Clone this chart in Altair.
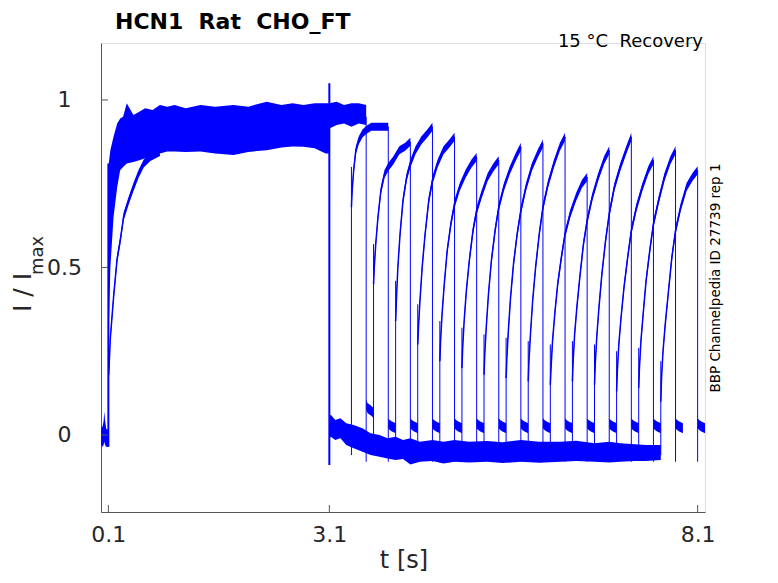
import altair as alt
import pandas as pd

BLUE = "#0000ff"
INK = "#262626"
FONT = "DejaVu Sans"

# ---------------- data ----------------
X_TICKS = [0.1, 3.1, 8.1]
Y_TICKS = [0.0, 0.5, 1.0]

# baseline before the activating step (noise envelope)
PRE_T = [0.0, 0.02, 0.035, 0.045, 0.055, 0.07, 0.085, 0.1]
PRE_LO = [-0.03, -0.035, -0.03, -0.02, -0.03, -0.035, -0.036, -0.035]
PRE_HI = [0.02, 0.025, 0.04, 0.07, 0.045, 0.02, 0.015, 0.02]

# envelope of the overlapping activation traces (0.1 .. 3.1 s)
PLAT_T = [0.10, 0.105, 0.127, 0.17, 0.22, 0.26, 0.30, 0.35, 0.44, 0.52, 0.6, 0.7, 0.8, 0.9,
          1.0, 1.15, 1.35, 1.55, 1.8, 2.0, 2.25, 2.45, 2.6, 2.75, 2.9, 3.05, 3.1]
PLAT_HI = [0.80, 0.81, 0.85, 0.89, 0.93, 0.945, 0.95, 0.99, 0.955, 0.965, 0.975, 0.97, 0.985, 0.98,
           0.985, 0.975, 0.985, 0.98, 0.985, 0.98, 0.995, 0.985, 0.99, 0.985, 0.99, 0.99, 0.99]
PLAT_LO = [0.10, 0.30, 0.50, 0.65, 0.74, 0.79, 0.80, 0.81, 0.815, 0.82, 0.826, 0.835, 0.84, 0.846,
           0.846, 0.845, 0.846, 0.84, 0.836, 0.845, 0.85, 0.858, 0.861, 0.86, 0.856, 0.84, 0.84]

# one slowly activating sweep
SLOW_T = [0.105, 0.127, 0.172, 0.218, 0.263, 0.308, 0.376, 0.444, 0.511, 0.58, 0.67, 0.8]
SLOW_V = [0.18, 0.29, 0.415, 0.524, 0.583, 0.653, 0.70, 0.742, 0.78, 0.81, 0.83, 0.845]

# zero-interval sweep that stays at the test potential (3.1 .. 3.6 s)
HOLD0_T = [3.1, 3.2, 3.3, 3.4, 3.5, 3.6]
HOLD0_LO = [0.915, 0.925, 0.93, 0.92, 0.93, 0.925]
HOLD0_HI = [0.99, 0.995, 0.985, 0.99, 0.99, 0.985]

# envelope of the deactivated baselines after 3.1 s
BASE_T = [3.1, 3.12, 3.18, 3.25, 3.33, 3.43, 3.55, 3.66, 3.78, 3.89, 4.0, 4.1, 4.2, 4.33, 4.5,
          4.65, 4.8, 5.0, 5.24, 5.45, 5.7, 5.95, 6.24, 6.45, 6.7, 6.9, 7.05, 7.25, 7.4, 7.6]
BASE_HI = [0.055, 0.06, 0.045, 0.05, 0.035, 0.03, 0.02, 0.005, 0.0, -0.01, -0.005, -0.015, -0.01,
           -0.02, -0.015, -0.02, -0.015, -0.02, -0.018, -0.022, -0.015, -0.02, -0.02, -0.017,
           -0.025, -0.02, -0.025, -0.028, -0.03, -0.03]
BASE_LO = [-0.01, -0.005, -0.015, -0.01, -0.03, -0.04, -0.05, -0.06, -0.065, -0.07, -0.075, -0.072,
           -0.088, -0.08, -0.078, -0.085, -0.08, -0.082, -0.08, -0.084, -0.08, -0.083, -0.08,
           -0.078, -0.08, -0.082, -0.08, -0.078, -0.078, -0.075]

# recovery test pulses: start times and the current along each pulse
RISE_T = [3.4, 3.7, 4.0, 4.3, 4.6, 4.9, 5.2, 5.5, 5.8, 6.1, 6.4, 6.7, 7.0, 7.3, 7.6]
PULSE_DT = [0.0, 0.01, 0.03, 0.06, 0.1, 0.15, 0.2, 0.27, 0.35, 0.43, 0.5]
PULSE_V = [
    [0.68, 0.73, 0.79, 0.85, 0.88, 0.90, 0.91, 0.92, 0.92, 0.92, 0.92],
    [0.45, 0.50, 0.57, 0.65, 0.73, 0.78, 0.80, 0.82, 0.85, 0.86, 0.875],
    [0.34, 0.40, 0.50, 0.60, 0.70, 0.77, 0.81, 0.85, 0.88, 0.90, 0.92],
    [0.27, 0.32, 0.40, 0.50, 0.60, 0.70, 0.76, 0.81, 0.85, 0.87, 0.89],
    [0.22, 0.28, 0.36, 0.45, 0.55, 0.63, 0.69, 0.74, 0.78, 0.81, 0.83],
    [0.20, 0.26, 0.34, 0.43, 0.52, 0.61, 0.67, 0.72, 0.77, 0.80, 0.82],
    [0.18, 0.24, 0.32, 0.42, 0.52, 0.61, 0.68, 0.74, 0.79, 0.83, 0.86],
    [0.17, 0.23, 0.31, 0.41, 0.51, 0.60, 0.67, 0.74, 0.80, 0.84, 0.87],
    [0.16, 0.22, 0.30, 0.40, 0.50, 0.60, 0.68, 0.75, 0.81, 0.86, 0.89],
    [0.15, 0.20, 0.28, 0.36, 0.45, 0.53, 0.60, 0.66, 0.71, 0.75, 0.77],
    [0.16, 0.22, 0.30, 0.38, 0.47, 0.57, 0.64, 0.71, 0.77, 0.82, 0.85],
    [0.15, 0.21, 0.29, 0.38, 0.48, 0.58, 0.66, 0.74, 0.80, 0.85, 0.89],
    [0.13, 0.19, 0.27, 0.35, 0.44, 0.53, 0.61, 0.68, 0.74, 0.79, 0.82],
    [0.14, 0.20, 0.28, 0.36, 0.46, 0.55, 0.63, 0.70, 0.77, 0.82, 0.85],
    [0.10, 0.17, 0.25, 0.33, 0.42, 0.53, 0.61, 0.68, 0.74, 0.77, 0.79],
]
SPIKE_V = [0.80, 0.57, 0.46, 0.39, 0.34, 0.32, 0.30, 0.29, 0.28, 0.27, 0.28, 0.27, 0.25, 0.26, 0.22]
PRE_RISE_V = -0.06
DROP_LOW = -0.08

# small tail after each test pulse (0.1 s)
BUMP_DT = [0.0, 0.02, 0.05, 0.08, 0.1]
BUMP_V = [0.035, 0.03, 0.025, 0.022, 0.02]
BUMP0_V = [0.09, 0.08, 0.075, 0.07, 0.065]
PULSE_LEN = 0.5
NOISE = 0.012
BUMP_NOISE = 0.015

# ---------------- tables ----------------
bands = []
for t, lo, hi in zip(PRE_T, PRE_LO, PRE_HI):
    bands.append(dict(seg="pre", t=t, lo=lo, hi=hi))
for t, lo, hi in zip(PLAT_T, PLAT_LO, PLAT_HI):
    bands.append(dict(seg="plat", t=t, lo=lo, hi=hi))
for t, lo, hi in zip(HOLD0_T, HOLD0_LO, HOLD0_HI):
    bands.append(dict(seg="hold0", t=t, lo=lo, hi=hi))
for t, lo, hi in zip(BASE_T, BASE_LO, BASE_HI):
    bands.append(dict(seg="base", t=t, lo=lo, hi=hi))
for dt, v in zip(BUMP_DT, BUMP0_V):
    bands.append(dict(seg="bump0", t=3.1 + PULSE_LEN + dt, lo=v - BUMP_NOISE, hi=v + BUMP_NOISE))

curves = []
for t, v in zip(SLOW_T, SLOW_V):
    curves.append(dict(seg="slow", t=t, v=v))

rules = [
    dict(t=0.1, y1=-0.035, y2=0.81, w=2.0),
    dict(t=3.1, y1=-0.09, y2=1.05, w=2.0),
    dict(t=3.1 + PULSE_LEN, y1=DROP_LOW, y2=0.95, w=1.0),
]
for k, (tr, vals, sp) in enumerate(zip(RISE_T, PULSE_V, SPIKE_V)):
    for dt, v in zip(PULSE_DT, vals):
        curves.append(dict(seg=f"p{k}", t=tr + dt, v=v))
    for dt, v in zip(BUMP_DT, BUMP_V):
        bands.append(dict(seg=f"b{k}", t=tr + PULSE_LEN + dt, lo=v - BUMP_NOISE, hi=v + BUMP_NOISE))
    rules.append(dict(t=tr, y1=PRE_RISE_V, y2=sp, w=1.0))
    rules.append(dict(t=tr + PULSE_LEN, y1=DROP_LOW, y2=vals[-1], w=1.0))

bands_df = pd.DataFrame(bands)
curves_df = pd.DataFrame(curves)
curves_df["lo"] = curves_df["v"] - NOISE
curves_df["hi"] = curves_df["v"] + NOISE
rules_df = pd.DataFrame(rules)
xt_df = pd.DataFrame({"v": X_TICKS})
yt_df = pd.DataFrame({"v": Y_TICKS})

W, H = 604, 469
xs = alt.Scale(domain=[0.0, 8.2], nice=False, zero=False)
ys = alt.Scale(domain=[-0.23, 1.17], nice=False, zero=False)

xaxis = alt.Axis(values=X_TICKS, format=".1f", title=None, grid=False, ticks=False,
                 labelFontSize=22, labelFont=FONT, labelColor=INK, labelPadding=12,
                 domainColor="#555555", domainWidth=1, labelFlush=False)
yaxis = alt.Axis(values=Y_TICKS, format=".1~f", title=None, grid=False, ticks=False,
                 labelFontSize=22, labelFont=FONT, labelColor=INK, labelPadding=37,
                 labelAlign="center", labelBaseline="middle",
                 domainColor="#555555", domainWidth=1)

band_layer = alt.Chart(bands_df).mark_area(color=BLUE, opacity=1, clip=True).encode(
    x=alt.X("t:Q", scale=xs, axis=xaxis),
    y=alt.Y("lo:Q", scale=ys, axis=yaxis),
    y2="hi:Q",
    detail="seg:N",
)
curve_area = alt.Chart(curves_df).mark_area(color=BLUE, opacity=1, clip=True).encode(
    x=alt.X("t:Q", scale=xs), y=alt.Y("lo:Q", scale=ys), y2="hi:Q", detail="seg:N"
)
curve_line = alt.Chart(curves_df).mark_line(color=BLUE, strokeWidth=1.5, clip=True).encode(
    x=alt.X("t:Q", scale=xs), y=alt.Y("v:Q", scale=ys), detail="seg:N"
)
rule_layer = alt.Chart(rules_df).mark_rule(color=BLUE, clip=True).encode(
    x=alt.X("t:Q", scale=xs), y=alt.Y("y1:Q", scale=ys), y2="y2:Q",
    strokeWidth=alt.StrokeWidth("w:Q", scale=None),
)
xticks = alt.Chart(xt_df).mark_rule(color="#555555", strokeWidth=1).encode(
    x=alt.X("v:Q", scale=xs), y=alt.value(H), y2=alt.value(H - 7)
)
yticks = alt.Chart(yt_df).mark_rule(color="#555555", strokeWidth=1).encode(
    y=alt.Y("v:Q", scale=ys), x=alt.value(0), x2=alt.value(7)
)


def label(text, x, y, size, align="left", angle=0, weight="normal", color=INK):
    return alt.Chart(pd.DataFrame({"s": [text]})).mark_text(
        font=FONT, fontSize=size, align=align, baseline="alphabetic", angle=angle,
        fontWeight=weight, color=color,
    ).encode(text="s:N", x=alt.value(x), y=alt.value(y))


texts = [
    label("HCN1\u00a0 Rat\u00a0 CHO_FT", 14, -14, 22, weight="bold", color="#000000"),
    label("15 \u00b0C\u00a0 Recovery", 602, 4, 18, align="right", color="#000000"),
    label("t [s]", 303, 525, 24, align="center"),
    label("I / I", -70, 230, 25, align="right", angle=270),
    label("max", -58, 232, 18, align="left", angle=270),
    label("BBP Channelpedia ID 27739 rep 1", 619, 235, 13.5, align="center", angle=270,
          color="#000000"),
]

chart = alt.layer(band_layer, curve_area, curve_line, rule_layer, xticks, yticks, *texts).properties(
    width=W, height=H,
    autosize=alt.AutoSizeParams(type="none"),
    padding={"left": 93, "top": 35, "right": 65, "bottom": 63},
).configure_view(stroke=None).configure(background="white")

chart.save("out.html", embed_options={"renderer": "svg", "actions": False})
